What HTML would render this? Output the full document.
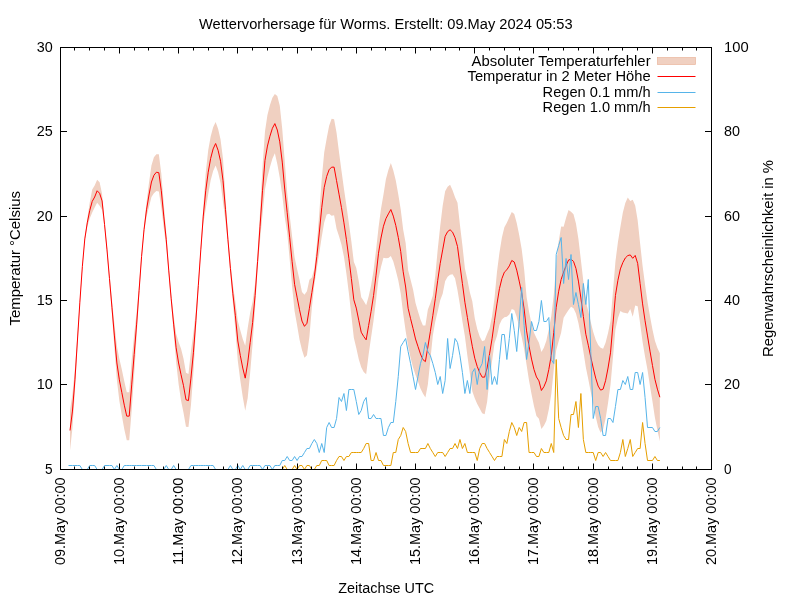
<!DOCTYPE html>
<html lang="de"><head><meta charset="utf-8"><title>Wettervorhersage für Worms</title>
<style>
html,body{margin:0;padding:0;background:#fff;}
body{width:800px;height:600px;overflow:hidden;}
svg{display:block;will-change:transform;}
text{font-family:"Liberation Sans",sans-serif;font-size:13.8px;fill:#000;}
</style></head><body>
<svg width="800" height="600" viewBox="0 0 800 600">
<rect width="800" height="600" fill="#fff"/>
<polygon points="69.99,410.48 72.46,394.06 74.93,368.84 77.4,335.01 79.86,299.19 82.33,264.74 84.8,236.89 87.27,218.85 89.74,202.53 92.21,189.41 94.67,185.53 97.14,179.78 99.61,182.31 102.08,193.91 104.55,221.54 107.01,246.36 109.48,274.56 111.95,300.25 114.42,323.95 116.89,345.96 119.35,358.84 121.82,369.5 124.29,381.16 126.76,392.13 129.23,392.13 131.7,359.9 134.16,334.52 136.63,312.13 139.1,284.37 141.57,253.61 144.04,226.6 146.5,202.85 148.97,183 151.44,165.5 153.91,157.25 156.38,154.21 158.84,154.22 161.31,173.78 163.78,204.1 166.25,232.73 168.72,266.12 171.18,293.81 173.65,316.13 176.12,333.76 178.59,341.96 181.06,348.77 183.53,358.74 185.99,372.75 188.46,374.1 190.93,351.15 193.4,332.83 195.87,310.76 198.33,280.31 200.8,246.86 203.27,208.1 205.74,172.78 208.21,150.28 210.67,136.58 213.14,127.27 215.61,122.02 218.08,128.7 220.55,139.61 223.02,158.95 225.48,197.35 227.95,234.73 230.42,262.43 232.89,284.75 235.36,301.69 237.82,321.01 240.29,330.36 242.76,339.02 245.23,345.65 247.7,327.96 250.16,312.7 252.63,301.44 255.1,283.44 257.57,253.68 260.04,212.23 262.5,166.78 264.97,131.4 267.44,115.05 269.91,105.26 272.38,97.82 274.85,94 277.31,96.01 279.78,105.83 282.25,129.08 284.72,161.09 287.19,192.72 289.65,215.2 292.12,236.68 294.59,257.3 297.06,269.12 299.53,279.78 301.99,292.09 304.46,294.83 306.93,291.29 309.4,279.76 311.87,277.57 314.33,268.87 316.8,244.61 319.27,212.98 321.74,178.66 324.21,152.4 326.68,138.43 329.14,125.68 331.61,118.65 334.08,119.15 336.55,132.65 339.02,152.16 341.48,170.66 343.95,188.85 346.42,205.73 348.89,223.3 351.36,241.56 353.82,261.82 356.29,268.1 358.76,281.25 361.23,297.23 363.7,300.95 366.17,305.33 368.63,296.48 371.1,285.3 373.57,270.44 376.04,250.18 378.51,227.74 380.97,209.04 383.44,194.73 385.91,179.13 388.38,169.91 390.85,163.02 393.31,170.6 395.78,180.38 398.25,194.37 400.72,209.55 403.19,229.8 405.65,243 408.12,270.26 410.59,279.73 413.06,289.52 415.53,302.99 418,311.58 420.46,319.51 422.93,325.58 425.4,325.61 427.87,309.42 430.34,303.23 432.8,295.69 435.27,275.81 437.74,249.24 440.21,226.36 442.68,205.86 445.14,191.36 447.61,186.63 450.08,184.77 452.55,190.14 455.02,197.21 457.49,202.68 459.95,225.05 462.42,245.62 464.89,268.19 467.36,279.38 469.83,292.24 472.29,301.24 474.76,318.23 477.23,329 479.7,336.58 482.17,341.14 484.63,340.14 487.1,334.02 489.57,328.34 492.04,316.32 494.51,298.26 496.97,271.88 499.44,252.68 501.91,237.56 504.38,227.14 506.85,222.78 509.32,217.3 511.78,211.89 514.25,214.01 516.72,223.12 519.19,235.09 521.66,248.9 524.12,268.94 526.59,296.88 529.06,311.74 531.53,324.07 534,332.79 536.46,337.97 538.93,342.85 541.4,351.97 543.87,347.76 546.34,340.85 548.8,329.54 551.27,316.36 553.74,295.07 556.21,264.25 558.68,241.22 561.15,226.4 563.61,226.64 566.08,217.73 568.55,209.99 571.02,211.81 573.49,214.34 575.95,223.43 578.42,239.09 580.89,259.97 583.36,281.54 585.83,301.26 588.29,311.23 590.76,322.05 593.23,332.02 595.7,339.65 598.17,345.08 600.64,347.63 603.1,348.87 605.57,342.68 608.04,333.02 610.51,320.83 612.98,291.13 615.44,261.44 617.91,242.24 620.38,226.93 622.85,212.52 625.32,202.96 627.78,197.6 630.25,200.92 632.72,199.8 635.19,205.43 637.66,220.36 640.12,243.62 642.59,265.88 645.06,284.76 647.53,301.95 650,316.14 652.47,329.49 654.93,340.83 657.4,348.12 659.87,353.22 659.87,441.22 657.4,430.12 654.93,417.83 652.47,401.49 650,386.14 647.53,369.95 645.06,356.76 642.59,341.88 640.12,323.62 637.66,306.36 635.19,305.43 632.72,316.8 630.25,308.92 627.78,313.6 625.32,312.96 622.85,312.52 620.38,310.93 617.91,318.24 615.44,329.44 612.98,357.13 610.51,384.83 608.04,403.02 605.57,418.68 603.1,429.37 600.64,432.63 598.17,427.08 595.7,416.65 593.23,404.02 590.76,392.05 588.29,379.23 585.83,367.26 583.36,351.54 580.89,335.97 578.42,323.09 575.95,313.43 573.49,308.34 571.02,306.81 568.55,309.99 566.08,313.73 563.61,317.64 561.15,332.4 558.68,341.22 556.21,350.25 553.74,370.07 551.27,394.36 548.8,409.54 546.34,420.85 543.87,425.76 541.4,428.97 538.93,418.85 536.46,415.97 534,406.29 531.53,394.07 529.06,380.74 526.59,364.88 524.12,348.94 521.66,336.9 519.19,327.09 516.72,317.12 514.25,310.01 511.78,309.09 509.32,314.5 506.85,316.78 504.38,317.14 501.91,319.56 499.44,324.68 496.97,335.88 494.51,343.26 492.04,361.32 489.57,379.34 487.1,402.02 484.63,414.14 482.17,413.14 479.7,408.58 477.23,404 474.76,398.23 472.29,391.24 469.83,373.24 467.36,355.38 464.89,336.19 462.42,321.62 459.95,305.05 457.49,290.28 455.02,278.21 452.55,274.14 450.08,274.77 447.61,276.63 445.14,281.36 442.68,293.86 440.21,300.36 437.74,311.24 435.27,321.81 432.8,335.69 430.34,360.23 427.87,384.42 425.4,397.61 422.93,393.58 420.46,388.51 418,381.58 415.53,374.99 413.06,367.52 410.59,357.73 408.12,346.26 405.65,331 403.19,313.8 400.72,293.55 398.25,280.37 395.78,270.38 393.31,261.6 390.85,256.02 388.38,257.91 385.91,258.13 383.44,257.73 380.97,267.04 378.51,278.74 376.04,300.18 373.57,320.44 371.1,337.3 368.63,354.48 366.17,374.33 363.7,371.95 361.23,367.23 358.76,359.25 356.29,348.1 353.82,337.82 351.36,315.56 348.89,293.3 346.42,273.73 343.95,256.85 341.48,244.66 339.02,236.16 336.55,228.65 334.08,215.15 331.61,215.65 329.14,213.68 326.68,214.43 324.21,222.4 321.74,236.66 319.27,252.98 316.8,268.61 314.33,284.87 311.87,307.57 309.4,336.76 306.93,355.29 304.46,357.83 301.99,350.09 299.53,339.78 297.06,325.12 294.59,311.3 292.12,286.68 289.65,259.2 287.19,232.72 284.72,217.09 282.25,195.08 279.78,177.83 277.31,164.01 274.85,153.2 272.38,158.82 269.91,167.26 267.44,177.05 264.97,189.4 262.5,214.78 260.04,240.23 257.57,269.68 255.1,307.44 252.63,343.44 250.16,372.7 247.7,397.96 245.23,410.65 242.76,397.02 240.29,380.36 237.82,361.01 235.36,329.69 232.89,302.75 230.42,274.43 227.95,244.73 225.48,221.35 223.02,202.35 220.55,183.04 218.08,172.17 215.61,165.52 213.14,170.92 210.67,180.37 208.21,194.21 205.74,208.78 203.27,224.1 200.8,252.86 198.33,290.31 195.87,330.76 193.4,372.83 190.93,405.15 188.46,427.1 185.99,426.75 183.53,412.74 181.06,400.77 178.59,383.96 176.12,361.76 173.65,332.13 171.18,303.81 168.72,274.12 166.25,246.73 163.78,228.1 161.31,207.78 158.84,191.42 156.38,190.91 153.91,193.25 151.44,197 148.97,207 146.5,216.85 144.04,232.6 141.57,259.61 139.1,296.37 136.63,336.13 134.16,374.52 131.7,409.9 129.23,440.13 126.76,440.13 124.29,429.16 121.82,415.5 119.35,400.84 116.89,379.96 114.42,347.95 111.95,314.25 109.48,282.56 107.01,253.36 104.55,227.54 102.08,209.91 99.61,205.81 97.14,202.78 94.67,207.53 92.21,212.41 89.74,218.53 87.27,226.85 84.8,240.89 82.33,268.74 79.86,305.19 77.4,347.01 74.93,390.84 72.46,428.06 69.99,450.48" fill="#f0d0c1"/>
<rect x="657.5" y="57.5" width="38" height="7" fill="#f0d0c1" stroke="#eab59c" stroke-width="0.7"/>
<polyline points="69.99,430.48 72.46,411.06 74.93,379.84 77.4,341.01 79.86,302.19 82.33,266.74 84.8,238.89 87.27,222.85 89.74,210.53 92.21,201.41 94.67,197.03 97.14,190.78 99.61,193.31 102.08,200.91 104.55,224.54 107.01,249.86 109.48,278.56 111.95,307.25 114.42,335.95 116.89,362.96 119.35,379.84 121.82,392.5 124.29,405.16 126.76,416.13 129.23,416.13 131.7,384.9 134.16,354.52 136.63,324.13 139.1,290.37 141.57,256.61 144.04,229.6 146.5,209.85 148.97,195 151.44,182 153.91,175.25 156.38,172.21 158.84,172.72 161.31,190.78 163.78,216.1 166.25,239.73 168.72,270.12 171.18,298.81 173.65,324.13 176.12,347.76 178.59,362.96 181.06,374.77 183.53,385.74 185.99,399.75 188.46,400.6 190.93,378.15 193.4,352.83 195.87,320.76 198.33,285.31 200.8,249.86 203.27,216.1 205.74,190.78 208.21,172.21 210.67,158.37 213.14,148.92 215.61,143.52 218.08,150.27 220.55,161.24 223.02,180.65 225.48,209.35 227.95,239.73 230.42,268.43 232.89,293.75 235.36,315.69 237.82,341.01 240.29,355.36 242.76,368.02 245.23,378.15 247.7,362.96 250.16,342.7 252.63,322.44 255.1,295.44 257.57,261.68 260.04,226.23 262.5,190.78 264.97,160.4 267.44,146.05 269.91,136.26 272.38,128.32 274.85,123.6 277.31,130.01 279.78,141.83 282.25,162.08 284.72,189.09 287.19,212.72 289.65,237.2 292.12,261.68 294.59,284.3 297.06,297.12 299.53,309.78 301.99,321.09 304.46,326.33 306.93,323.29 309.4,308.26 311.87,292.57 314.33,276.87 316.8,256.61 319.27,232.98 321.74,207.66 324.21,187.4 326.68,176.43 329.14,169.68 331.61,167.15 334.08,167.15 336.55,180.65 339.02,194.16 341.48,207.66 343.95,222.85 346.42,239.73 348.89,258.3 351.36,278.56 353.82,299.82 356.29,308.1 358.76,320.25 361.23,332.23 363.7,336.45 366.17,339.83 368.63,325.48 371.1,311.3 373.57,295.44 376.04,275.18 378.51,253.24 380.97,238.04 383.44,226.23 385.91,218.63 388.38,213.91 390.85,209.52 393.31,216.1 395.78,225.38 398.25,237.37 400.72,251.55 403.19,271.8 405.65,287 408.12,308.26 410.59,318.73 413.06,328.52 415.53,338.99 418,346.58 420.46,354.01 422.93,359.58 425.4,361.61 427.87,346.92 430.34,331.73 432.8,315.69 435.27,298.81 437.74,280.24 440.21,263.36 442.68,249.86 445.14,236.36 447.61,231.63 450.08,229.77 452.55,232.14 455.02,237.71 457.49,246.48 459.95,265.05 462.42,283.62 464.89,302.19 467.36,317.38 469.83,332.74 472.29,346.24 474.76,358.23 477.23,366.5 479.7,372.58 482.17,377.14 484.63,377.14 487.1,368.02 489.57,353.84 492.04,338.82 494.51,320.76 496.97,303.88 499.44,288.68 501.91,278.56 504.38,272.14 506.85,269.78 509.32,265.9 511.78,260.49 514.25,262.01 516.72,270.12 519.19,281.09 521.66,292.9 524.12,308.94 526.59,330.88 529.06,346.24 531.53,359.07 534,369.54 536.46,376.97 538.93,380.85 541.4,390.47 543.87,386.76 546.34,380.85 548.8,369.54 551.27,355.36 553.74,332.57 556.21,307.25 558.68,291.22 561.15,279.4 563.61,272.14 566.08,265.73 568.55,259.99 571.02,259.31 573.49,261.34 575.95,268.43 578.42,281.09 580.89,297.97 583.36,316.54 585.83,334.26 588.29,345.23 590.76,357.05 593.23,368.02 595.7,378.15 598.17,386.08 600.64,390.13 603.1,389.12 605.57,380.68 608.04,368.02 610.51,352.83 612.98,324.13 615.44,295.44 617.91,280.24 620.38,268.93 622.85,262.52 625.32,257.96 627.78,255.6 630.25,254.92 632.72,258.3 635.19,255.43 637.66,263.36 640.12,283.62 642.59,303.88 645.06,320.76 647.53,335.95 650,351.14 652.47,365.49 654.93,379.33 657.4,389.12 659.87,397.22" fill="none" stroke="#ff0000" stroke-width="1" stroke-linejoin="miter"/>
<polyline points="68.5,465.5 69.99,465.5 72.46,465.5 74.93,465.5 77.4,465.5 79.86,465.5 82.33,469.5 84.8,469.5 87.27,469.5 89.74,465.5 92.21,465.5 94.67,465.5 97.14,469.5 99.61,469.5 102.08,469.5 104.55,465.5 107.01,465.5 109.48,465.5 111.95,465.5 114.42,469.5 116.89,465.5 119.35,469.5 121.82,469.5 124.29,465.5 126.76,465.5 129.23,465.5 131.7,465.5 134.16,465.5 136.63,465.5 139.1,465.5 141.57,465.5 144.04,465.5 146.5,465.5 148.97,465.5 151.44,465.5 153.91,465.5 156.38,469.5 158.84,469.5 161.31,469.5 163.78,469.5 166.25,465.5 168.72,469.5 171.18,469.5 173.65,465.5 176.12,469.5 178.59,469.5 181.06,469.5 183.53,469.5 185.99,469.5 188.46,469.5 190.93,465.5 193.4,465.5 195.87,465.5 198.33,465.5 200.8,465.5 203.27,465.5 205.74,465.5 208.21,465.5 210.67,465.5 213.14,465.5 215.61,469.5 218.08,469.5 220.55,469.5 223.02,469.5 225.48,469.5 227.95,469.5 230.42,465.5 232.89,469.5 235.36,469.5 237.82,465.5 240.29,469.5 242.76,465.5 245.23,469.5 247.7,469.5 250.16,465.5 252.63,465.5 255.1,465.5 257.57,465.5 260.04,465.5 262.5,469.5 264.97,465.5 267.44,465.5 269.91,465.5 272.38,469.5 274.85,465.5 277.31,465.5 279.78,465.5 282.25,460.5 284.72,460.5 287.19,456.5 289.65,460.5 292.12,460.5 294.59,456.5 297.06,460.5 299.53,456.5 301.99,456.5 304.46,452.5 306.93,448.5 309.4,448.5 311.87,443.5 314.33,439.5 316.8,443.5 319.27,452.5 321.74,443.5 324.21,452.5 326.68,427.5 329.14,422.5 331.61,427.5 334.08,427.5 336.55,418.5 339.02,397.5 341.48,401.5 343.95,393.5 346.42,410.5 348.89,389.5 351.36,389.5 353.82,389.5 356.29,401.5 358.76,414.5 361.23,410.5 363.7,401.5 366.17,397.5 368.63,418.5 371.1,418.5 373.57,414.5 376.04,418.5 378.51,418.5 380.97,418.5 383.44,435.5 385.91,435.5 388.38,427.5 390.85,422.5 393.31,422.5 395.78,401.5 398.25,376.5 400.72,346.5 403.19,342.5 405.65,338.5 408.12,351.5 410.59,363.5 413.06,376.5 415.53,389.5 418,376.5 420.46,363.5 422.93,355.5 425.4,342.5 427.87,351.5 430.34,355.5 432.8,363.5 435.27,372.5 437.74,384.5 440.21,376.5 442.68,393.5 445.14,380.5 447.61,338.5 450.08,368.5 452.55,355.5 455.02,338.5 457.49,342.5 459.95,355.5 462.42,372.5 464.89,393.5 467.36,380.5 469.83,393.5 472.29,372.5 474.76,368.5 477.23,384.5 479.7,368.5 482.17,363.5 484.63,346.5 487.1,389.5 489.57,355.5 492.04,384.5 494.51,376.5 496.97,384.5 499.44,359.5 501.91,334.5 504.38,334.5 506.85,359.5 509.32,338.5 511.78,313.5 514.25,330.5 516.72,351.5 519.19,321.5 521.66,287.5 524.12,325.5 526.59,359.5 529.06,342.5 531.53,321.5 534,330.5 536.46,330.5 538.93,321.5 541.4,300.5 543.87,321.5 546.34,321.5 548.8,317.5 551.27,359.5 553.74,363.5 556.21,254.5 558.68,245.5 561.15,237.5 563.61,283.5 566.08,258.5 568.55,279.5 571.02,254.5 573.49,304.5 575.95,292.5 578.42,304.5 580.89,317.5 583.36,283.5 585.83,304.5 588.29,279.5 590.76,351.5 593.23,418.5 595.7,406.5 598.17,406.5 600.64,418.5 603.1,435.5 605.57,435.5 608.04,418.5 610.51,418.5 612.98,422.5 615.44,406.5 617.91,389.5 620.38,389.5 622.85,380.5 625.32,384.5 627.78,376.5 630.25,389.5 632.72,389.5 635.19,372.5 637.66,372.5 640.12,384.5 642.59,372.5 645.06,397.5 647.53,427.5 650,427.5 652.47,427.5 654.93,431.5 657.4,431.5 659.87,427.5" fill="none" stroke="#56b4e9" stroke-width="1" stroke-linejoin="miter"/>
<polyline points="69.99,469.5 72.46,469.5 74.93,469.5 77.4,469.5 79.86,469.5 82.33,469.5 84.8,469.5 87.27,469.5 89.74,469.5 92.21,469.5 94.67,469.5 97.14,469.5 99.61,469.5 102.08,469.5 104.55,469.5 107.01,469.5 109.48,469.5 111.95,469.5 114.42,469.5 116.89,469.5 119.35,469.5 121.82,469.5 124.29,469.5 126.76,469.5 129.23,469.5 131.7,469.5 134.16,469.5 136.63,469.5 139.1,469.5 141.57,469.5 144.04,469.5 146.5,469.5 148.97,469.5 151.44,469.5 153.91,469.5 156.38,469.5 158.84,469.5 161.31,469.5 163.78,469.5 166.25,469.5 168.72,469.5 171.18,469.5 173.65,469.5 176.12,469.5 178.59,469.5 181.06,469.5 183.53,469.5 185.99,469.5 188.46,469.5 190.93,469.5 193.4,469.5 195.87,469.5 198.33,469.5 200.8,469.5 203.27,469.5 205.74,469.5 208.21,469.5 210.67,469.5 213.14,469.5 215.61,469.5 218.08,469.5 220.55,469.5 223.02,469.5 225.48,469.5 227.95,469.5 230.42,469.5 232.89,469.5 235.36,469.5 237.82,469.5 240.29,469.5 242.76,469.5 245.23,469.5 247.7,469.5 250.16,469.5 252.63,469.5 255.1,469.5 257.57,469.5 260.04,469.5 262.5,469.5 264.97,469.5 267.44,469.5 269.91,469.5 272.38,469.5 274.85,469.5 277.31,469.5 279.78,469.5 282.25,469.5 284.72,465.5 287.19,469.5 289.65,469.5 292.12,469.5 294.59,465.5 297.06,469.5 299.53,465.5 301.99,465.5 304.46,469.5 306.93,465.5 309.4,465.5 311.87,469.5 314.33,469.5 316.8,465.5 319.27,465.5 321.74,460.5 324.21,460.5 326.68,460.5 329.14,465.5 331.61,465.5 334.08,465.5 336.55,460.5 339.02,456.5 341.48,456.5 343.95,460.5 346.42,456.5 348.89,456.5 351.36,452.5 353.82,452.5 356.29,452.5 358.76,452.5 361.23,452.5 363.7,448.5 366.17,443.5 368.63,443.5 371.1,460.5 373.57,460.5 376.04,452.5 378.51,460.5 380.97,460.5 383.44,465.5 385.91,465.5 388.38,465.5 390.85,465.5 393.31,452.5 395.78,452.5 398.25,439.5 400.72,435.5 403.19,427.5 405.65,431.5 408.12,443.5 410.59,452.5 413.06,452.5 415.53,452.5 418,452.5 420.46,448.5 422.93,448.5 425.4,448.5 427.87,443.5 430.34,448.5 432.8,452.5 435.27,456.5 437.74,452.5 440.21,452.5 442.68,452.5 445.14,456.5 447.61,452.5 450.08,448.5 452.55,448.5 455.02,443.5 457.49,448.5 459.95,439.5 462.42,448.5 464.89,443.5 467.36,452.5 469.83,452.5 472.29,452.5 474.76,452.5 477.23,460.5 479.7,448.5 482.17,443.5 484.63,443.5 487.1,448.5 489.57,452.5 492.04,456.5 494.51,460.5 496.97,456.5 499.44,456.5 501.91,456.5 504.38,439.5 506.85,443.5 509.32,431.5 511.78,422.5 514.25,427.5 516.72,435.5 519.19,427.5 521.66,431.5 524.12,422.5 526.59,422.5 529.06,452.5 531.53,452.5 534,452.5 536.46,456.5 538.93,456.5 541.4,448.5 543.87,452.5 546.34,452.5 548.8,452.5 551.27,443.5 553.74,452.5 556.21,359.5 558.68,418.5 561.15,427.5 563.61,435.5 566.08,439.5 568.55,439.5 571.02,414.5 573.49,414.5 575.95,401.5 578.42,427.5 580.89,393.5 583.36,439.5 585.83,452.5 588.29,452.5 590.76,452.5 593.23,452.5 595.7,460.5 598.17,452.5 600.64,452.5 603.1,456.5 605.57,452.5 608.04,456.5 610.51,460.5 612.98,460.5 615.44,460.5 617.91,460.5 620.38,452.5 622.85,439.5 625.32,456.5 627.78,448.5 630.25,439.5 632.72,456.5 635.19,452.5 637.66,448.5 640.12,448.5 642.59,422.5 645.06,443.5 647.53,460.5 650,460.5 652.47,460.5 654.93,456.5 657.4,460.5 659.87,460.5" fill="none" stroke="#e69f00" stroke-width="1" stroke-linejoin="miter"/>
<path d="M657.5 76.5h38" stroke="#ff0000" stroke-width="1" fill="none"/>
<path d="M657.5 92.5h38" stroke="#56b4e9" stroke-width="1" fill="none"/>
<path d="M657.5 107.5h38" stroke="#e69f00" stroke-width="1" fill="none"/>
<path d="M74.5 469.5 v-3 M74.5 47.5 v3 M89.5 469.5 v-3 M89.5 47.5 v3 M104.5 469.5 v-3 M104.5 47.5 v3 M119.5 469.5 v-6 M119.5 47.5 v6 M134.5 469.5 v-3 M134.5 47.5 v3 M148.5 469.5 v-3 M148.5 47.5 v3 M163.5 469.5 v-3 M163.5 47.5 v3 M178.5 469.5 v-6 M178.5 47.5 v6 M193.5 469.5 v-3 M193.5 47.5 v3 M208.5 469.5 v-3 M208.5 47.5 v3 M223.5 469.5 v-3 M223.5 47.5 v3 M237.5 469.5 v-6 M237.5 47.5 v6 M252.5 469.5 v-3 M252.5 47.5 v3 M267.5 469.5 v-3 M267.5 47.5 v3 M282.5 469.5 v-3 M282.5 47.5 v3 M297.5 469.5 v-6 M297.5 47.5 v6 M311.5 469.5 v-3 M311.5 47.5 v3 M326.5 469.5 v-3 M326.5 47.5 v3 M341.5 469.5 v-3 M341.5 47.5 v3 M356.5 469.5 v-6 M356.5 47.5 v6 M371.5 469.5 v-3 M371.5 47.5 v3 M385.5 469.5 v-3 M385.5 47.5 v3 M400.5 469.5 v-3 M400.5 47.5 v3 M415.5 469.5 v-6 M415.5 47.5 v6 M430.5 469.5 v-3 M430.5 47.5 v3 M445.5 469.5 v-3 M445.5 47.5 v3 M459.5 469.5 v-3 M459.5 47.5 v3 M474.5 469.5 v-6 M474.5 47.5 v6 M489.5 469.5 v-3 M489.5 47.5 v3 M504.5 469.5 v-3 M504.5 47.5 v3 M519.5 469.5 v-3 M519.5 47.5 v3 M533.5 469.5 v-6 M533.5 47.5 v6 M548.5 469.5 v-3 M548.5 47.5 v3 M563.5 469.5 v-3 M563.5 47.5 v3 M578.5 469.5 v-3 M578.5 47.5 v3 M593.5 469.5 v-6 M593.5 47.5 v6 M608.5 469.5 v-3 M608.5 47.5 v3 M622.5 469.5 v-3 M622.5 47.5 v3 M637.5 469.5 v-3 M637.5 47.5 v3 M652.5 469.5 v-6 M652.5 47.5 v6 M667.5 469.5 v-3 M667.5 47.5 v3 M682.5 469.5 v-3 M682.5 47.5 v3 M696.5 469.5 v-3 M696.5 47.5 v3 M60.5 384.5 h6.5 M711.5 384.5 h-6.5 M60.5 300.5 h6.5 M711.5 300.5 h-6.5 M60.5 216.5 h6.5 M711.5 216.5 h-6.5 M60.5 131.5 h6.5 M711.5 131.5 h-6.5" stroke="#000" stroke-width="1" fill="none"/>
<rect x="60.5" y="47.5" width="651" height="422" fill="none" stroke="#000" stroke-width="1"/>
<text x="385.8" y="28.7" text-anchor="middle" textLength="373.5" lengthAdjust="spacingAndGlyphs">Wettervorhersage für Worms. Erstellt: 09.May 2024 05:53</text>
<text x="52.7" y="474.2" text-anchor="end" textLength="7.6" lengthAdjust="spacingAndGlyphs">5</text>
<text x="52.7" y="389.2" text-anchor="end" textLength="16" lengthAdjust="spacingAndGlyphs">10</text>
<text x="52.7" y="305.2" text-anchor="end" textLength="16" lengthAdjust="spacingAndGlyphs">15</text>
<text x="52.7" y="221.2" text-anchor="end" textLength="16" lengthAdjust="spacingAndGlyphs">20</text>
<text x="52.7" y="136.2" text-anchor="end" textLength="16" lengthAdjust="spacingAndGlyphs">25</text>
<text x="52.7" y="52.2" text-anchor="end" textLength="16" lengthAdjust="spacingAndGlyphs">30</text>
<text x="724" y="474.2" textLength="7.6" lengthAdjust="spacingAndGlyphs">0</text>
<text x="724" y="389.2" textLength="16" lengthAdjust="spacingAndGlyphs">20</text>
<text x="724" y="305.2" textLength="16" lengthAdjust="spacingAndGlyphs">40</text>
<text x="724" y="221.2" textLength="16" lengthAdjust="spacingAndGlyphs">60</text>
<text x="724" y="136.2" textLength="16" lengthAdjust="spacingAndGlyphs">80</text>
<text x="724" y="52.2" textLength="24.6" lengthAdjust="spacingAndGlyphs">100</text>
<text x="64.8" y="565" textLength="87.5" lengthAdjust="spacingAndGlyphs" transform="rotate(-90 64.8 565)">09.May 00:00</text>
<text x="123.8" y="565" textLength="87.5" lengthAdjust="spacingAndGlyphs" transform="rotate(-90 123.8 565)">10.May 00:00</text>
<text x="182.8" y="565" textLength="87.5" lengthAdjust="spacingAndGlyphs" transform="rotate(-90 182.8 565)">11.May 00:00</text>
<text x="241.8" y="565" textLength="87.5" lengthAdjust="spacingAndGlyphs" transform="rotate(-90 241.8 565)">12.May 00:00</text>
<text x="301.8" y="565" textLength="87.5" lengthAdjust="spacingAndGlyphs" transform="rotate(-90 301.8 565)">13.May 00:00</text>
<text x="360.8" y="565" textLength="87.5" lengthAdjust="spacingAndGlyphs" transform="rotate(-90 360.8 565)">14.May 00:00</text>
<text x="419.8" y="565" textLength="87.5" lengthAdjust="spacingAndGlyphs" transform="rotate(-90 419.8 565)">15.May 00:00</text>
<text x="478.8" y="565" textLength="87.5" lengthAdjust="spacingAndGlyphs" transform="rotate(-90 478.8 565)">16.May 00:00</text>
<text x="537.8" y="565" textLength="87.5" lengthAdjust="spacingAndGlyphs" transform="rotate(-90 537.8 565)">17.May 00:00</text>
<text x="597.8" y="565" textLength="87.5" lengthAdjust="spacingAndGlyphs" transform="rotate(-90 597.8 565)">18.May 00:00</text>
<text x="656.8" y="565" textLength="87.5" lengthAdjust="spacingAndGlyphs" transform="rotate(-90 656.8 565)">19.May 00:00</text>
<text x="715.8" y="565" textLength="87.5" lengthAdjust="spacingAndGlyphs" transform="rotate(-90 715.8 565)">20.May 00:00</text>
<text x="386.2" y="593.3" text-anchor="middle" textLength="96" lengthAdjust="spacingAndGlyphs">Zeitachse UTC</text>
<text x="19.6" y="258.3" text-anchor="middle" textLength="134.5" lengthAdjust="spacingAndGlyphs" transform="rotate(-90 19.6 258.3)">Temperatur °Celsius</text>
<text x="773.1" y="258.5" text-anchor="middle" textLength="197" lengthAdjust="spacingAndGlyphs" transform="rotate(-90 773.1 258.5)">Regenwahrscheinlichkeit in %</text>
<text x="650.6" y="65.6" text-anchor="end" textLength="179" lengthAdjust="spacingAndGlyphs">Absoluter Temperaturfehler</text>
<text x="650.6" y="81.1" text-anchor="end" textLength="183" lengthAdjust="spacingAndGlyphs">Temperatur in 2 Meter Höhe</text>
<text x="650.6" y="96.9" text-anchor="end" textLength="108" lengthAdjust="spacingAndGlyphs">Regen 0.1 mm/h</text>
<text x="650.6" y="112.1" text-anchor="end" textLength="108" lengthAdjust="spacingAndGlyphs">Regen 1.0 mm/h</text>
</svg>
</body></html>
